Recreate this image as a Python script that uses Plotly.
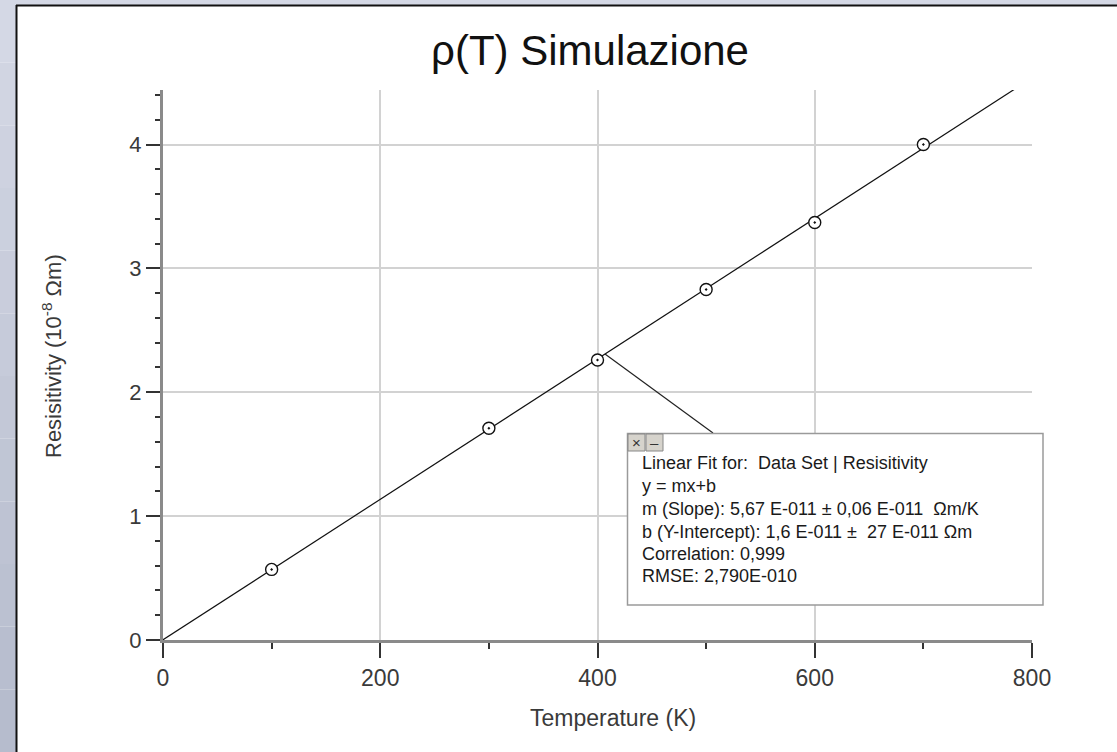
import plotly.graph_objects as go

# ---- data ----
temperature = [100, 300, 400, 500, 600, 700]          # K
resistivity = [0.57, 1.71, 2.26, 2.83, 3.37, 4.00]    # 10^-8 Ohm m
fit_slope = 0.00567       # 10^-8 Ohm m / K  (5.67E-11 Ohm m/K)
fit_intercept = 0.0016    # 10^-8 Ohm m
fit_T = [0, 800]
fit_rho = [fit_intercept + fit_slope * t for t in fit_T]

x_ticks = [0, 200, 400, 600, 800]
y_ticks = [0, 1, 2, 3, 4]
x_range = [0, 800]
y_range = [0, 4.44]

title_text = "ρ(T) Simulazione"
x_title = "Temperature (K)"
y_title = "Resisitivity (10<sup>-8</sup> Ωm)"
fit_lines = [
    "Linear Fit for:  Data Set | Resisitivity",
    "y = mx+b",
    "m (Slope): 5,67 E-011 ± 0,06 E-011  Ωm/K",
    "b (Y-Intercept): 1,6 E-011 ±  27 E-011 Ωm",
    "Correlation: 0,999",
    "RMSE: 2,790E-010",
]

# ---- layout geometry (pixels) ----
W, H = 1117, 752
L, R, T, B = 163, 1032, 90, 640
PW, PH = R - L, B - T

def px(x):
    return (x - L) / PW

def py(y):
    return (B - y) / PH

FONT = "Liberation Sans, Arial, sans-serif"

fig = go.Figure()

fig.add_trace(go.Scatter(
    x=fit_T, y=fit_rho, mode="lines",
    line=dict(color="#111111", width=1.2),
    hoverinfo="skip", showlegend=False,
))
fig.add_trace(go.Scatter(
    x=temperature, y=resistivity, mode="markers",
    marker=dict(symbol="circle-dot", size=12, color="white",
                line=dict(color="#111111", width=1.4)),
    showlegend=False,
))

shapes = []
# outer frame: bluish strips left and top
n_band = 12
for i in range(n_band):
    t = i / (n_band - 1)
    r = int(0xd4 + (0xb6 - 0xd4) * t)
    g = int(0xd8 + (0xbc - 0xd8) * t)
    b = int(0xe5 + (0xcd - 0xe5) * t)
    y0 = H * i / n_band
    y1 = H * (i + 1) / n_band
    shapes.append(dict(type="rect", xref="paper", yref="paper",
                       x0=px(0), x1=px(16), y0=py(y1), y1=py(y0),
                       fillcolor=f"rgb({r},{g},{b})", line=dict(width=0), layer="below"))
shapes.append(dict(type="rect", xref="paper", yref="paper",
                   x0=px(0), x1=px(W), y0=py(5), y1=py(0),
                   fillcolor="#d4d8e5", line=dict(width=0), layer="below"))
shapes.append(dict(type="line", xref="paper", yref="paper",
                   x0=px(16.5), x1=px(16.5), y0=py(H), y1=py(5),
                   line=dict(color="#111111", width=2), layer="below"))
shapes.append(dict(type="line", xref="paper", yref="paper",
                   x0=px(16), x1=px(W), y0=py(5.5), y1=py(5.5),
                   line=dict(color="#111111", width=2), layer="below"))

# connector from fitted point to the fit box
shapes.append(dict(type="line", xref="paper", yref="paper",
                   x0=px(605), y0=py(354), x1=px(713), y1=py(433),
                   line=dict(color="#222222", width=1.2), layer="above"))
# fit box
shapes.append(dict(type="rect", xref="paper", yref="paper",
                   x0=px(627.5), x1=px(1043), y0=py(605), y1=py(433.5),
                   fillcolor="white", line=dict(color="#9a9a9a", width=1.5), layer="above"))
# header buttons
shapes.append(dict(type="rect", xref="paper", yref="paper",
                   x0=px(628), x1=px(645), y0=py(451), y1=py(434),
                   fillcolor="#d6d3cc", line=dict(color="#888888", width=1), layer="above"))
shapes.append(dict(type="rect", xref="paper", yref="paper",
                   x0=px(646), x1=px(663), y0=py(451), y1=py(434),
                   fillcolor="#d6d3cc", line=dict(color="#888888", width=1), layer="above"))

annotations = []
annotations.append(dict(text="×", xref="paper", yref="paper", x=px(636.5), y=py(442.5),
                        showarrow=False, font=dict(family=FONT, size=15, color="#333"),
                        xanchor="center", yanchor="middle"))
annotations.append(dict(text="–", xref="paper", yref="paper", x=px(654.5), y=py(442.5),
                        showarrow=False, font=dict(family=FONT, size=15, color="#333"),
                        xanchor="center", yanchor="middle"))
line_y = [463, 486, 509, 532, 554, 576]
for txt, yy in zip(fit_lines, line_y):
    annotations.append(dict(text=txt, xref="paper", yref="paper", x=px(640), y=py(yy),
                            showarrow=False, xanchor="left", yanchor="middle",
                            font=dict(family=FONT, size=18, color="#1a1a1a")))
# axis titles
annotations.append(dict(text=x_title, xref="paper", yref="paper", x=px(613), y=py(718),
                        showarrow=False, xanchor="center", yanchor="middle",
                        font=dict(family=FONT, size=23, color="#3a3a3a")))
annotations.append(dict(text=y_title, xref="paper", yref="paper", x=px(52), y=py(356),
                        showarrow=False, xanchor="center", yanchor="middle", textangle=-90,
                        font=dict(family=FONT, size=22, color="#3a3a3a")))

fig.update_layout(
    width=W, height=H,
    margin=dict(l=L, r=W - R, t=T, b=H - B),
    paper_bgcolor="white", plot_bgcolor="white",
    title=dict(text=title_text, x=590 / W, y=1 - 50 / H, xref="container", yref="container",
               xanchor="center", yanchor="middle",
               font=dict(family=FONT, size=42, color="#111111")),
    shapes=shapes, annotations=annotations,
    showlegend=False,
)
fig.update_xaxes(
    range=x_range, tickvals=x_ticks, ticktext=[str(v) for v in x_ticks],
    showline=True, linecolor="#8a8a8a", linewidth=3,
    ticks="outside", ticklen=15, tickwidth=2, tickcolor="#333333",
    showgrid=True, gridcolor="#d2d2d2", gridwidth=1.5, zeroline=False,
    tickfont=dict(family=FONT, size=23, color="#3a3a3a"),
    minor=dict(dtick=100, ticks="outside", ticklen=6, tickwidth=2, tickcolor="#333333", showgrid=False),
)
fig.update_yaxes(
    range=y_range, tickvals=y_ticks, ticktext=[str(v) for v in y_ticks],
    showline=True, linecolor="#8a8a8a", linewidth=3,
    ticks="outside", ticklen=14, tickwidth=2, tickcolor="#333333",
    showgrid=True, gridcolor="#d2d2d2", gridwidth=1.5, zeroline=False,
    tickfont=dict(family=FONT, size=22, color="#3a3a3a"),
    minor=dict(dtick=0.2, ticks="outside", ticklen=5, tickwidth=2, tickcolor="#333333", showgrid=False),
)

fig.write_html("out.html", config={"displayModeBar": False},
               post_script="document.body.style.margin='0';document.body.style.overflow='hidden';")
